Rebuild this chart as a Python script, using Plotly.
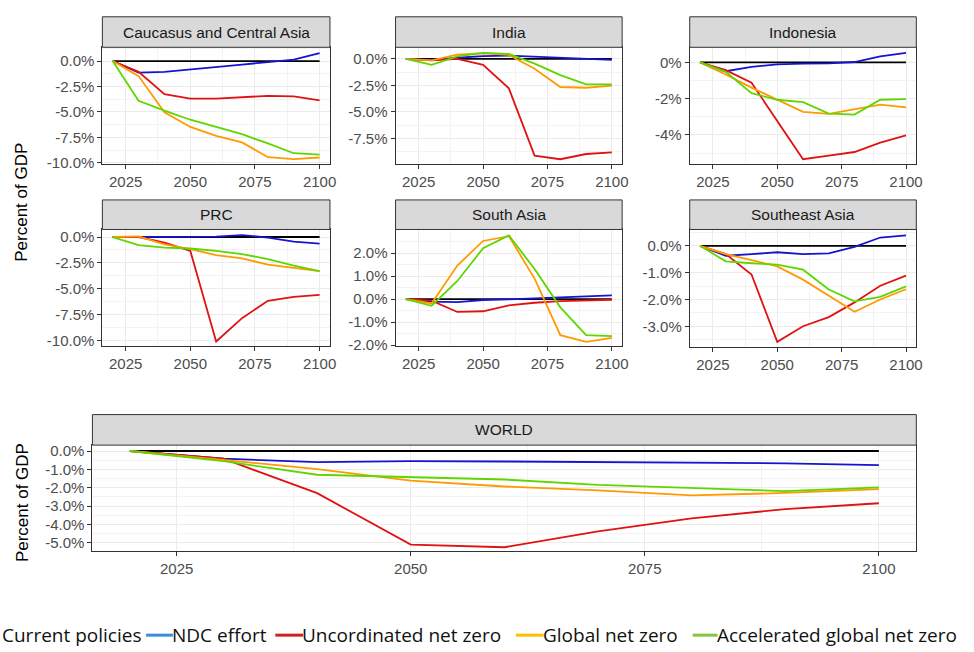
import plotly.graph_objects as go

W, H = 974, 652

years = [2020, 2030, 2040, 2050, 2060, 2070, 2080, 2090, 2100]
current_policies = [0, 0, 0, 0, 0, 0, 0, 0, 0]

# Caucasus and Central Asia
cca_ndc = [0, -1.13, -1.06, -0.8, -0.58, -0.35, -0.1, 0.13, 0.77]
cca_unc = [0, -1.06, -3.26, -3.7, -3.7, -3.58, -3.42, -3.48, -3.87]
cca_glob = [0, -1.48, -5.03, -6.48, -7.35, -8.0, -9.45, -9.65, -9.48]
cca_acc = [0, -3.9, -4.87, -5.77, -6.48, -7.19, -8.1, -9.06, -9.19]

# India
ind_ndc = [0, -0.1, 0.1, 0.25, 0.3, 0.2, 0.1, 0.03, -0.1]
ind_unc = [0, -0.15, 0.0, -0.56, -2.78, -9.1, -9.44, -8.95, -8.8]
ind_glob = [0, -0.15, 0.4, 0.52, 0.37, -0.93, -2.65, -2.72, -2.53]
ind_acc = [0, -0.56, 0.22, 0.56, 0.46, -0.46, -1.54, -2.41, -2.41]

# Indonesia
idn_ndc = [0, -0.49, -0.25, -0.11, -0.07, -0.05, 0.02, 0.33, 0.52]
idn_unc = [0, -0.43, -1.12, -3.24, -5.34, -5.14, -4.94, -4.42, -4.02]
idn_glob = [0, -0.67, -1.39, -2.06, -2.73, -2.84, -2.57, -2.33, -2.48]
idn_acc = [0, -0.52, -1.7, -2.06, -2.19, -2.82, -2.88, -2.06, -2.03]

# PRC
prc_ndc = [0, 0.0, -0.03, -0.03, 0.03, 0.19, -0.06, -0.44, -0.63]
prc_unc = [0, 0.0, -0.54, -1.33, -10.1, -7.84, -6.16, -5.78, -5.59]
prc_glob = [0, 0.06, -0.7, -1.17, -1.75, -2.06, -2.67, -2.98, -3.3]
prc_acc = [0, -0.79, -1.02, -1.11, -1.33, -1.65, -2.13, -2.76, -3.3]

# South Asia
sas_ndc = [0, -0.11, -0.13, -0.04, -0.01, 0.03, 0.06, 0.09, 0.16]
sas_unc = [0, -0.07, -0.56, -0.53, -0.27, -0.16, -0.09, -0.06, -0.03]
sas_glob = [0, -0.19, 1.46, 2.53, 2.74, 0.89, -1.57, -1.86, -1.69]
sas_acc = [0, -0.29, 0.79, 2.21, 2.77, 1.31, -0.36, -1.57, -1.61]

# Southeast Asia
sea_ndc = [0, -0.37, -0.31, -0.24, -0.31, -0.28, -0.04, 0.31, 0.39]
sea_unc = [0, -0.31, -1.07, -3.58, -3.0, -2.66, -2.11, -1.49, -1.11]
sea_glob = [0, -0.31, -0.53, -0.77, -1.26, -1.87, -2.46, -2.0, -1.62]
sea_acc = [0, -0.58, -0.65, -0.7, -0.89, -1.63, -2.07, -1.9, -1.51]

# World
wld_ndc = [0, -0.42, -0.6, -0.55, -0.57, -0.6, -0.63, -0.67, -0.77]
wld_unc = [0, -0.42, -2.29, -5.09, -5.23, -4.37, -3.66, -3.16, -2.84]
wld_glob = [0, -0.5, -0.98, -1.61, -1.93, -2.14, -2.41, -2.28, -2.07]
wld_acc = [0, -0.55, -1.29, -1.43, -1.55, -1.84, -2.02, -2.18, -1.98]

x_ticks = [2025, 2050, 2075, 2100]
x_labels = ["2025", "2050", "2075", "2100"]

y_ticks_10 = [0, -2.5, -5, -7.5, -10]
y_labels_10 = ["0.0%", "-2.5%", "-5.0%", "-7.5%", "-10.0%"]
y_ticks_ind = [0, -2.5, -5, -7.5]
y_labels_ind = ["0.0%", "-2.5%", "-5.0%", "-7.5%"]
y_ticks_idn = [0, -2, -4]
y_labels_idn = ["0%", "-2%", "-4%"]
y_ticks_sas = [2, 1, 0, -1, -2]
y_labels_sas = ["2.0%", "1.0%", "0.0%", "-1.0%", "-2.0%"]
y_ticks_sea = [0, -1, -2, -3]
y_labels_sea = ["0.0%", "-1.0%", "-2.0%", "-3.0%"]
y_ticks_wld = [0, -1, -2, -3, -4, -5]
y_labels_wld = ["0.0%", "-1.0%", "-2.0%", "-3.0%", "-4.0%", "-5.0%"]

scenarios = ["Current policies", "NDC effort", "Uncordinated net zero",
             "Global net zero", "Accelerated global net zero"]
line_colors = ["#000000", "#1414d2", "#e01212", "#ff9a00", "#5fd600"]
legend_colors = ["#000000", "#3a8dde", "#d42020", "#ffc000", "#86c440"]

# (title, series, yticks, ylabels, pixel box x0,x1,y0,y1, yrange, strip top)
panels = [
    ("Caucasus and Central Asia", [cca_ndc, cca_unc, cca_glob, cca_acc],
     y_ticks_10, y_labels_10, (103, 332, 45, 163.3), (-10.1, 1.35), 14),
    ("India", [ind_ndc, ind_unc, ind_glob, ind_acc],
     y_ticks_ind, y_labels_ind, (398, 626, 45, 163.3), (-9.87, 1.08), 14),
    ("Indonesia", [idn_ndc, idn_unc, idn_glob, idn_acc],
     y_ticks_idn, y_labels_idn, (694, 922, 45, 163.3), (-5.59, 0.83), 14),
    ("PRC", [prc_ndc, prc_unc, prc_glob, prc_acc],
     y_ticks_10, y_labels_10, (103, 332, 230, 348.3), (-10.53, 0.73), 200),
    ("South Asia", [sas_ndc, sas_unc, sas_glob, sas_acc],
     y_ticks_sas, y_labels_sas, (398, 626, 230, 348.3), (-2.04, 3.03), 200),
    ("Southeast Asia", [sea_ndc, sea_unc, sea_glob, sea_acc],
     y_ticks_sea, y_labels_sea, (694, 922, 230, 349), (-3.76, 0.61), 200),
    ("WORLD", [wld_ndc, wld_unc, wld_glob, wld_acc],
     y_ticks_wld, y_labels_wld, (93, 922, 449, 557), (-5.46, 0.32), 418),
]

FONT = "Liberation Sans, Arial, sans-serif"
fig = go.Figure()
shapes = []
annotations = []
layout = {}

for i, (title, series, yt, yl, box, yr, strip_top) in enumerate(panels):
    n = i + 1
    xa = "x" if n == 1 else f"x{n}"
    ya = "y" if n == 1 else f"y{n}"
    x0, x1, y0, y1 = box

    all_series = [current_policies] + series
    for s, name, col in zip(all_series, scenarios, line_colors):
        fig.add_trace(go.Scatter(x=years, y=s, mode="lines", name=name,
                                 line=dict(color=col, width=1.8),
                                 xaxis=xa, yaxis=ya, showlegend=False))

    step = abs(yt[0] - yt[1])
    y_minor = [v - step / 2 for v in yt] + [yt[0] + step / 2]
    tick_size = 15
    layout[f"xaxis{n}"] = dict(
        domain=[x0 / W, x1 / W], range=[2016, 2104], anchor=ya,
        tickvals=x_ticks, ticktext=x_labels, ticks="outside", ticklen=4,
        tickcolor="#333333", showline=True, linecolor="#333333", mirror=True,
        showgrid=True, gridcolor="#EBEBEB", gridwidth=1, zeroline=False,
        tickfont=dict(size=tick_size, color="#4D4D4D", family=FONT),
        minor=dict(tickvals=[2037.5, 2062.5, 2087.5], showgrid=True,
                   gridcolor="#F3F3F3", gridwidth=1, ticks=""),
    )
    layout[f"yaxis{n}"] = dict(
        domain=[1 - y1 / H, 1 - y0 / H], range=list(yr), anchor=xa,
        tickvals=yt, ticktext=yl, ticks="outside", ticklen=4,
        tickcolor="#333333", showline=True, linecolor="#333333", mirror=True,
        showgrid=True, gridcolor="#EBEBEB", gridwidth=1, zeroline=False,
        tickfont=dict(size=tick_size, color="#4D4D4D", family=FONT),
        minor=dict(tickvals=y_minor, showgrid=True, gridcolor="#F3F3F3",
                   gridwidth=1, ticks=""),
    )

    # facet strip
    shapes.append(dict(type="rect", xref="paper", yref="paper",
                       x0=x0 / W, x1=x1 / W, y0=1 - y0 / H, y1=1 - strip_top / H,
                       fillcolor="#D9D9D9", line=dict(color="#333333", width=1)))
    annotations.append(dict(text=title, xref="paper", yref="paper",
                            x=(x0 + x1) / 2 / W, y=1 - (y0 + strip_top) / 2 / H,
                            xanchor="center", yanchor="middle", showarrow=False,
                            font=dict(size=15.5, color="#1A1A1A", family=FONT)))

# y axis titles
for yc in (202, 507):
    annotations.append(dict(text="Percent of GDP", xref="paper", yref="paper",
                            x=22 / W, y=1 - yc / H, textangle=-90,
                            xanchor="center", yanchor="middle", showarrow=False,
                            font=dict(size=17, color="#000000", family=FONT)))

# legend row (pasted-in style legend)
legend_items = [(0, None), (147, 173), (277, 304), (519, 546), (697, 721)]
LFONT = "Open Sans, Lato, sans-serif"
for (lx0, tx), name, col in zip(legend_items, scenarios, legend_colors):
    shift = -2
    if tx is None:
        tx = lx0
        shift = 0
    else:
        shapes.append(dict(type="line", xref="paper", yref="paper",
                           x0=lx0 / W, x1=(tx + 1) / W,
                           y0=1 - 642 / H, y1=1 - 642 / H,
                           line=dict(color=col, width=3)))
    annotations.append(dict(text=name, xref="paper", yref="paper",
                            x=tx / W, y=1 - 642 / H, xanchor="left",
                            yanchor="middle", showarrow=False, xshift=shift,
                            font=dict(size=19, color="#111111", family=LFONT)))

fig.update_layout(
    width=W, height=H, margin=dict(l=0, r=0, t=0, b=0),
    paper_bgcolor="white", plot_bgcolor="white",
    shapes=shapes, annotations=annotations, showlegend=False,
    font=dict(family=FONT), **layout,
)

# drop the default page margin so the figure fills the window exactly
fig.write_html(
    "out.html",
    config={"displayModeBar": False},
    post_script=("document.documentElement.style.margin='0';"
                 "document.body.style.margin='0';"
                 "document.documentElement.style.overflow='hidden';"
                 "document.body.style.overflow='hidden';"),
)
